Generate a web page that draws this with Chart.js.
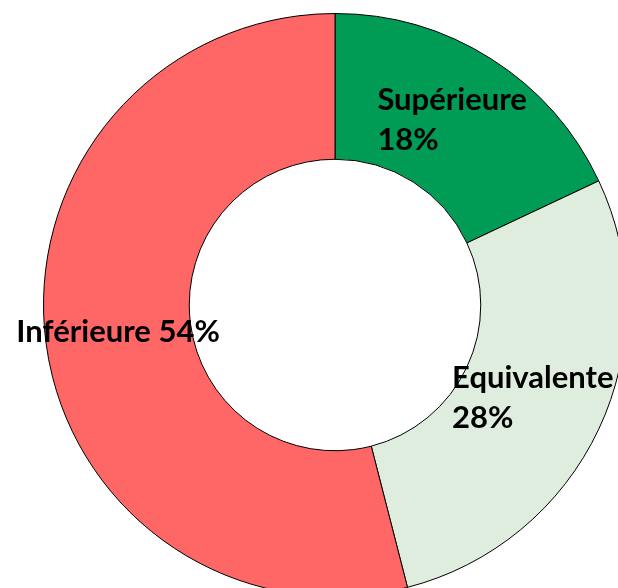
<!DOCTYPE html>
<html>
<head>
<meta charset="utf-8">
<script src="https://cdn.jsdelivr.net/npm/chart.js@4/dist/chart.umd.min.js"></script>
<style>
html,body{margin:0;padding:0;background:#fff;overflow:hidden;width:618px;height:588px;}
#wrap{position:absolute;left:0;top:0;width:670px;height:610px;}
</style>
</head>
<body>
<div id="wrap"><canvas id="c" width="670" height="610"></canvas></div>
<script>
const categories = ["Supérieure", "Equivalente", "Inférieure"];
const values = [18, 28, 54];
const labelLines = [["Supérieure", "18%"], ["Equivalente", "28%"], ["Inférieure 54%"]];
const colors = ["#009B55", "#DEEDDE", "#FF6666"];

const labelPlugin = {
  id: 'sliceLabels',
  afterDatasetsDraw(chart) {
    const ctx = chart.ctx;
    const meta = chart.getDatasetMeta(0);
    ctx.save();
    ctx.font = 'bold 31px Lato';
    ctx.fillStyle = '#000';
    ctx.textBaseline = 'middle';
    ctx.textAlign = 'left';
    const lh = 40;
    meta.data.forEach((arc, i) => {
      const p = arc.tooltipPosition();
      const lines = labelLines[i];
      const w = Math.max(...lines.map(l => ctx.measureText(l).width));
      const x0 = p.x - w / 2;
      const y0 = p.y - (lines.length - 1) * lh / 2;
      lines.forEach((l, k) => ctx.fillText(l, x0, y0 + k * lh));
    });
    ctx.restore();
  }
};

new Chart(document.getElementById('c'), {
  type: 'doughnut',
  data: {
    labels: categories,
    datasets: [{
      data: values,
      backgroundColor: colors,
      borderColor: '#000',
      borderWidth: 1,
      hoverOffset: 0
    }]
  },
  options: {
    responsive: false,
    animation: false,
    cutout: '50%',
    layout: { padding: { top: 13, bottom: 13, left: 0, right: 0 } },
    plugins: { legend: { display: false }, tooltip: { enabled: false } }
  },
  plugins: [labelPlugin]
});
</script>
</body>
</html>
